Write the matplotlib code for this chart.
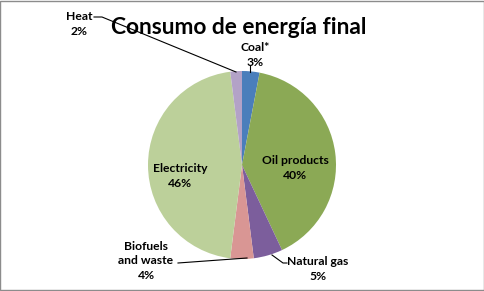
import matplotlib
matplotlib.use('Agg')
import matplotlib.pyplot as plt
from matplotlib.patches import Rectangle

# datos del gráfico
categorias = ['Coal*', 'Oil products', 'Natural gas', 'Biofuels\nand waste', 'Electricity', 'Heat']
porcentajes = [3, 40, 5, 4, 46, 2]
colores = ['#4A7EBB', '#8BA955', '#7C5E9C', '#D99694', '#BCD09A', '#B3A2C7']

plt.rcParams['font.family'] = ['Lato', 'DejaVu Sans']

W, H = 485, 291
fig = plt.figure(figsize=(W / 100, H / 100), dpi=100)
ax = fig.add_axes([0, 0, 1, 1])

# centro y radio en pixeles (y hacia arriba)
cx, cy, r = 242, H - 165, 94
ax.pie(porcentajes, colors=colores, startangle=90, counterclock=False,
       center=(cx, cy), radius=r, frame=True,
       wedgeprops=dict(linewidth=0))
ax.set_xlim(0, W)
ax.set_ylim(0, H)
ax.set_aspect('equal')
ax.axis('off')

def py(y):
    return H - y

etiquetas = [f'{c}\n{p}%' for c, p in zip(categorias, porcentajes)]
kw = dict(fontsize=8.7, fontweight='bold', ha='center', va='center', linespacing=1.35)
linea = dict(color='black', lw=0.8)

# Coal*
ax.text(255, py(55), etiquetas[0], **kw)
ax.plot([250, 250], [py(65), py(72)], **linea)
# Oil products (dentro)
ax.text(295, py(168), etiquetas[1], **kw)
# Natural gas
ax.text(318, py(269), etiquetas[2], **kw)
ax.plot([272, 283, 287], [py(255), py(263), py(263)], **linea)
# Biofuels and waste
ax.text(146, py(261), etiquetas[3], **kw)
ax.plot([178, 247], [py(263), py(258)], **linea)
# Electricity (dentro)
ax.text(180, py(176), etiquetas[4], **kw)
# Heat
ax.text(79, py(24), etiquetas[5], **kw)
ax.plot([94, 102, 236], [py(17), py(17), py(72)], **linea)

ax.text(239, py(27), 'Consumo de energía final', fontsize=16.4, fontweight='bold',
        ha='center', va='center')

fig.patches.append(Rectangle((0.001, 0.002), 0.996, 0.995, transform=fig.transFigure,
                             fill=False, edgecolor='#8C8C8C', linewidth=1))

fig.savefig('out.png', dpi=100)
